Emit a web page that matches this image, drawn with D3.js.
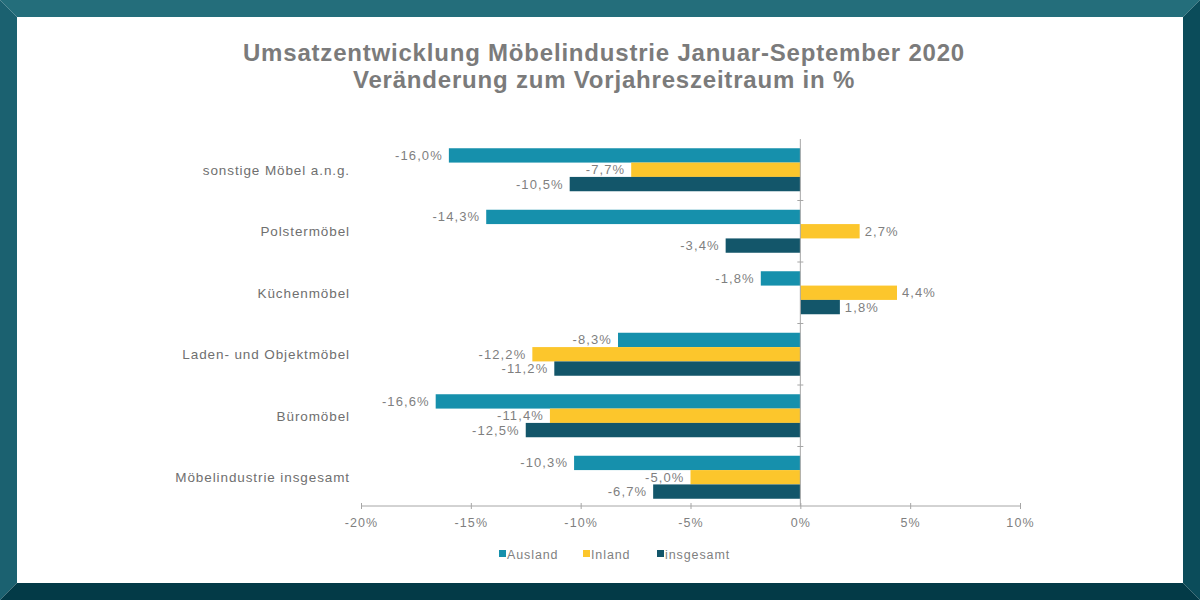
<!DOCTYPE html>
<html><head><meta charset="utf-8">
<script src="https://cdn.jsdelivr.net/npm/d3@7"></script>
<style>
html,body{margin:0;padding:0;background:#fff;}
svg{display:block;font-family:"Liberation Sans",Arial,sans-serif;}
</style></head>
<body>
<svg id="chart" width="1200" height="600"></svg>
<script>
const categories = ["sonstige Möbel a.n.g.","Polstermöbel","Küchenmöbel","Laden- und Objektmöbel","Büromöbel","Möbelindustrie insgesamt"];
const seriesNames = ["Ausland","Inland","insgesamt"];
const ausland = [-16.0,-14.3,-1.8,-8.3,-16.6,-10.3];
const inland = [-7.7,2.7,4.4,-12.2,-11.4,-5.0];
const insgesamt = [-10.5,-3.4,1.8,-11.2,-12.5,-6.7];
const xTicks = [-20,-15,-10,-5,0,5,10];
const titleLines = ["Umsatzentwicklung Möbelindustrie Januar-September 2020","Veränderung zum Vorjahreszeitraum in %"];
const colors = ["#1690ac","#fcc62c","#13566a"];

const svg = d3.select("#chart");
const W=1200,H=600,B=17;
// frame
svg.append("rect").attr("x",0).attr("y",0).attr("width",W).attr("height",H).attr("fill","#fff");
svg.append("polygon").attr("points",`0,0 ${W},0 ${W-B},${B} ${B},${B}`).attr("fill","#246e7b");
svg.append("polygon").attr("points",`0,0 ${B},${B} ${B},${H-B} 0,${H}`).attr("fill","#1b6170");
svg.append("polygon").attr("points",`${W},0 ${W},${H} ${W-B},${H-B} ${W-B},${B}`).attr("fill","#0b4c5a");
svg.append("polygon").attr("points",`0,${H} ${B},${H-B} ${W-B},${H-B} ${W},${H}`).attr("fill","#033a47");

// title
svg.append("g").selectAll("text").data(titleLines).join("text")
  .attr("x",604).attr("y",(d,i)=>61+i*27).attr("text-anchor","middle")
  .attr("font-size",24).attr("font-weight","bold").attr("letter-spacing",0.8)
  .attr("fill","#7b7b7b").text(d=>d);

const x = d3.scaleLinear().domain([-20,10]).range([361,1020]);
const y = d3.scaleBand().domain(categories).range([139,508]);
const inner = d3.scaleBand().domain(seriesNames).range([0,43]).paddingInner(0);
const groupOffset = (y.bandwidth()-43)/2;

const data = [];
categories.forEach((c,i)=>{
  [ausland,inland,insgesamt].forEach((arr,j)=>data.push({cat:c,s:seriesNames[j],v:arr[i],j}));
});

const g = svg.append("g");
g.selectAll("rect.bar").data(data).join("rect").attr("class","bar")
  .attr("x",d=>x(Math.min(0,d.v))).attr("width",d=>Math.abs(x(d.v)-x(0)))
  .attr("y",d=>y(d.cat)+groupOffset+inner(d.s)).attr("height",inner.bandwidth())
  .attr("fill",d=>colors[d.j]);

// value labels
const fmt = v => (v<0?"-":"")+Math.abs(v).toFixed(1).replace(".",",")+"%";
g.selectAll("text.lbl").data(data).join("text").attr("class","lbl")
  .attr("x",d=>d.v<0? x(d.v)-6 : x(d.v)+5)
  .attr("y",d=>y(d.cat)+groupOffset+inner(d.s)+inner.bandwidth()/2+4.5)
  .attr("text-anchor",d=>d.v<0?"end":"start")
  .attr("font-size",13).attr("letter-spacing",1.1).attr("fill","#7f7f7f").text(d=>fmt(d.v));

// x axis
const xAxis = d3.axisBottom(x).tickValues(xTicks).tickFormat(d=>d+"%").tickSize(4);
const ax = svg.append("g").attr("transform","translate(0,506)").call(xAxis);
ax.select(".domain").attr("stroke","#a6a6a6").attr("d","M361,0H1020");
ax.selectAll(".tick line").attr("stroke","#a6a6a6").attr("y1",-3).attr("y2",3);
ax.selectAll(".tick text").attr("font-size",12.5).attr("letter-spacing",1.1).attr("fill","#7f7f7f").attr("dy","1.15em")
  .attr("font-family","Liberation Sans, Arial, sans-serif");

// zero line with category ticks
svg.append("line").attr("x1",x(0)).attr("x2",x(0)).attr("y1",139).attr("y2",506).attr("stroke","#a6a6a6");
svg.append("g").selectAll("line").data(categories.slice(1)).join("line")
  .attr("x1",x(0)-3).attr("x2",x(0)+3).attr("y1",d=>y(d)).attr("y2",d=>y(d)).attr("stroke","#a6a6a6");

// category labels
svg.append("g").selectAll("text").data(categories).join("text")
  .attr("x",350).attr("y",d=>y(d)+y.bandwidth()/2+5).attr("text-anchor","end")
  .attr("font-size",13.5).attr("letter-spacing",0.9).attr("fill","#6f6f6f").text(d=>d);

// legend
const legX = [499,583,657];
const leg = svg.append("g").selectAll("g").data(seriesNames).join("g")
  .attr("transform",(d,i)=>`translate(${legX[i]},554)`);
leg.append("rect").attr("x",0).attr("y",-4).attr("width",7).attr("height",7).attr("fill",(d,i)=>colors[i]);
leg.append("text").attr("x",8).attr("y",4.5).attr("font-size",12.5).attr("letter-spacing",0.9).attr("fill","#7f7f7f").text(d=>d);
</script>
</body></html>
